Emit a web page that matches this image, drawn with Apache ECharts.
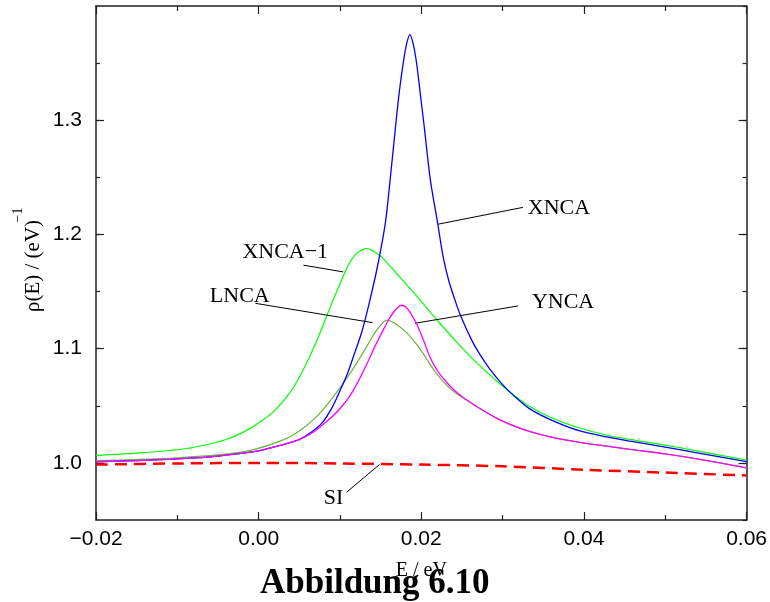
<!DOCTYPE html>
<html><head><meta charset="utf-8">
<script src="https://cdn.jsdelivr.net/npm/echarts@6/dist/echarts.min.js"></script>
<style>html,body{margin:0;padding:0;background:#fff}#c{width:770px;height:602px}</style>
</head><body><div id="c"></div>
<script>
// ---- data (E in eV, rho in 1/eV) ----
const xncaData = [[-0.02,1.001],[-0.015,1.002],[-0.01,1.0035],[-0.005,1.006],[0.0,1.0105],[0.003,1.016],[0.005,1.0205],[0.0065,1.027],[0.0078,1.035],[0.009,1.048],[0.0098,1.060],[0.0108,1.076],[0.0117,1.094],[0.0127,1.115],[0.0137,1.143],[0.0147,1.175],[0.0156,1.211],[0.0162,1.250],[0.0168,1.292],[0.0173,1.325],[0.0178,1.351],[0.0182,1.367],[0.0186,1.375],[0.0190,1.367],[0.0194,1.351],[0.0199,1.322],[0.0204,1.292],[0.0211,1.2485],[0.0220,1.2105],[0.0227,1.180],[0.0234,1.159],[0.0241,1.1435],[0.0248,1.1295],[0.0262,1.1075],[0.0272,1.095],[0.0285,1.0815],[0.030,1.0685],[0.0315,1.058],[0.0333,1.0475],[0.036,1.0375],[0.0395,1.028],[0.043,1.0225],[0.0457,1.019],[0.05,1.0138],[0.0539,1.0088],[0.06,1.0012]];
const xnca1Data = [[-0.02,1.0065],[-0.015,1.0085],[-0.01,1.0115],[-0.007,1.015],[-0.004,1.0205],[-0.002,1.0265],[0.0,1.035],[0.002,1.046],[0.004,1.063],[0.005,1.075],[0.006,1.089],[0.007,1.1045],[0.0082,1.1255],[0.0093,1.145],[0.0104,1.1635],[0.0112,1.1755],[0.012,1.183],[0.0127,1.1865],[0.0133,1.1877],[0.014,1.1858],[0.0149,1.1815],[0.016,1.1735],[0.0175,1.1615],[0.0196,1.1447],[0.0211,1.132],[0.0225,1.1205],[0.024,1.1085],[0.0255,1.097],[0.027,1.0865],[0.0293,1.0715],[0.031,1.0615],[0.0333,1.0495],[0.036,1.0395],[0.0395,1.0305],[0.043,1.024],[0.0457,1.0205],[0.05,1.0155],[0.0539,1.0105],[0.06,1.0025]];
const lncaData = [[-0.02,1.002],[-0.015,1.003],[-0.01,1.0045],[-0.005,1.007],[-0.001,1.011],[0.0031,1.0204],[0.005,1.028],[0.0072,1.041],[0.0092,1.058],[0.0113,1.079],[0.0133,1.102],[0.0145,1.116],[0.0158,1.125],[0.017,1.121],[0.0182,1.114],[0.0194,1.104],[0.0203,1.095],[0.0211,1.086],[0.022,1.077],[0.023,1.069],[0.024,1.0625],[0.0252,1.0565],[0.027,1.0485],[0.0293,1.039],[0.031,1.0335],[0.0333,1.0275],[0.036,1.0225],[0.0395,1.018],[0.043,1.0145],[0.0457,1.0118],[0.05,1.0078],[0.0539,1.0035],[0.06,0.9957]];
const yncaData = [[-0.02,1.001],[-0.015,1.002],[-0.01,1.0035],[-0.005,1.006],[0.0,1.0105],[0.003,1.016],[0.005,1.0205],[0.0065,1.026],[0.0078,1.033],[0.0092,1.0415],[0.0103,1.050],[0.0113,1.0595],[0.0123,1.072],[0.0133,1.0865],[0.0143,1.102],[0.0153,1.116],[0.016,1.1255],[0.0165,1.131],[0.0171,1.136],[0.0176,1.138],[0.0181,1.1365],[0.0186,1.132],[0.0194,1.122],[0.0203,1.107],[0.0211,1.092],[0.022,1.0805],[0.023,1.0715],[0.024,1.064],[0.0252,1.057],[0.027,1.0485],[0.0293,1.039],[0.031,1.0335],[0.0333,1.0275],[0.036,1.0225],[0.0395,1.018],[0.043,1.0145],[0.0457,1.0118],[0.05,1.0078],[0.0539,1.0035],[0.06,0.9957]];
const siData = [[-0.02,0.9985],[-0.01,0.9995],[0.0,1.0],[0.01,0.9995],[0.02,0.9985],[0.03,0.997],[0.04,0.994],[0.05,0.9915],[0.06,0.989]];

// axis ticks / labels
const xMin = -0.02, xMax = 0.06, xStep = 0.02;
const yMin = 0.95, yMax = 1.40, yMinorStep = 0.05;
const yLabelValues = [1.0, 1.1, 1.2, 1.3];

// annotation texts, anchor points and leader lines (data coordinates)
const annoNames = ['XNCA', 'XNCA\u22121', 'LNCA', 'YNCA', 'SI'];
const annoAnchors = [[0.0331,1.2231],[-0.0020,1.1847],[-0.0060,1.1461],[0.0336,1.1404],[0.0080,0.9693]];
const annoLeaders = [
  [[0.0221,1.209],[0.0325,1.2237]],
  [[0.0055,1.1731],[0.0104,1.1672]],
  [[-0.0004,1.1397],[0.0140,1.1228]],
  [[0.0192,1.1222],[0.0319,1.1374]],
  [[0.0108,0.9742],[0.01485,0.9985]]
];

const chart = echarts.init(document.getElementById('c'));
const serif = '"Liberation Serif","Times New Roman",serif';
const sans = '"Liberation Sans",Arial,sans-serif';
const axisColor = '#222';

function xFmt(v){ if (Math.abs(v) < 1e-9) return '0.00'; return (v < 0 ? '\u2212' : '') + Math.abs(v).toFixed(2); }
function yFmt(v){ const k = Math.round(v*100); return (k % 10 === 0 && k >= 100 && k <= 130) ? (k/100).toFixed(1) : ''; }

const xBase = {type:'value', min:xMin, max:xMax, interval:xStep, splitLine:{show:false},
  axisLine:{show:true, onZero:false, lineStyle:{color:axisColor, width:1.5}},
  axisTick:{show:true, inside:true, length:8, lineStyle:{color:axisColor, width:1.2}},
  minorTick:{show:true, splitNumber:2, length:5, lineStyle:{color:axisColor, width:1.2}},
  minorSplitLine:{show:false}};
const yBase = {type:'value', min:yMin, max:yMax, splitLine:{show:false}};

const lineSeries = (name, data, color, width, z) => ({
  name, type:'line', data, showSymbol:false, symbol:'none', smooth:0.3,
  lineStyle:{color, width}, z, animation:false
});

chart.setOption({
  animation:false,
  backgroundColor:'#fff',
  title:{text:'Abbildung 6.10', left:260, top:566, padding:0,
    textStyle:{fontFamily:serif, fontWeight:'bold', fontSize:35, color:'#000'}},
  grid:{left:96, top:6, width:651, height:514, containLabel:false},
  xAxis:[
    Object.assign({}, xBase, {position:'bottom',
      axisLabel:{show:true, formatter:xFmt, margin:9, fontFamily:sans, fontSize:21, color:'#000'},
      name:'E / eV', nameLocation:'middle', nameGap:41,
      nameTextStyle:{fontFamily:serif, fontSize:20, color:'#000'}}),
    Object.assign({}, xBase, {position:'top', axisLabel:{show:false}})
  ],
  yAxis:[
    Object.assign({}, yBase, {position:'left', interval:yMinorStep,
      axisLine:{show:true, onZero:false, lineStyle:{color:axisColor, width:1.5}},
      axisTick:{show:true, inside:true, length:4, lineStyle:{color:axisColor, width:1.2}},
      axisLabel:{show:true, formatter:yFmt, margin:14, fontFamily:sans, fontSize:21, color:'#000', showMinLabel:false, showMaxLabel:false}}),
    Object.assign({}, yBase, {position:'left', offset:0,
      axisLine:{show:false, onZero:false},
      axisTick:{show:true, inside:true, length:8, customValues:yLabelValues, lineStyle:{color:axisColor, width:1.2}},
      axisLabel:{show:false}}),
    Object.assign({}, yBase, {position:'right', interval:yMinorStep,
      axisLine:{show:true, onZero:false, lineStyle:{color:axisColor, width:1.5}},
      axisTick:{show:true, inside:true, length:4, lineStyle:{color:axisColor, width:1.2}},
      axisLabel:{show:false}}),
    Object.assign({}, yBase, {position:'right', offset:0,
      axisLine:{show:false, onZero:false},
      axisTick:{show:true, inside:true, length:8, customValues:yLabelValues, lineStyle:{color:axisColor, width:1.2}},
      axisLabel:{show:false}})
  ],
  graphic:[
    {type:'text', x:33, y:266, rotation:Math.PI/2, silent:true,
     style:{text:'\u03c1(E) / (eV)', align:'center', verticalAlign:'middle', fill:'#000',
       fontFamily:serif, fontSize:21}},
    {type:'text', x:18, y:215, rotation:Math.PI/2, silent:true,
     style:{text:'\u22121', align:'center', verticalAlign:'middle', fill:'#000',
       fontFamily:serif, fontSize:14}}
  ],
  series:[
    lineSeries('XNCA-1', xnca1Data, '#00ff00', 1.2, 2),
    lineSeries('LNCA', lncaData, '#6cb33c', 1.2, 3),
    lineSeries('XNCA', xncaData, '#0000ff', 1.3, 4),
    lineSeries('YNCA', yncaData, '#ff00ff', 1.3, 5),
    Object.assign(lineSeries('SI', siData, '#ff0000', 2.5, 6), {
      lineStyle:{color:'#ff0000', width:2.5, type:[12,7]},
      markLine:{silent:true, symbol:['none','none'], animation:false,
        lineStyle:{color:'#000', width:1, type:'solid'}, label:{show:false},
        emphasis:{disabled:true},
        data: annoLeaders.map(p => [{coord:p[0]}, {coord:p[1]}])},
      markPoint:{silent:true, symbol:'circle', symbolSize:0, animation:false,
        label:{show:true, position:'right', distance:0, formatter:'{b}', fontFamily:serif, fontSize:22, color:'#000'},
        data: annoNames.map((n,i) => ({name:n, coord:annoAnchors[i]}))}
    })
  ]
});
</script>
</body></html>
